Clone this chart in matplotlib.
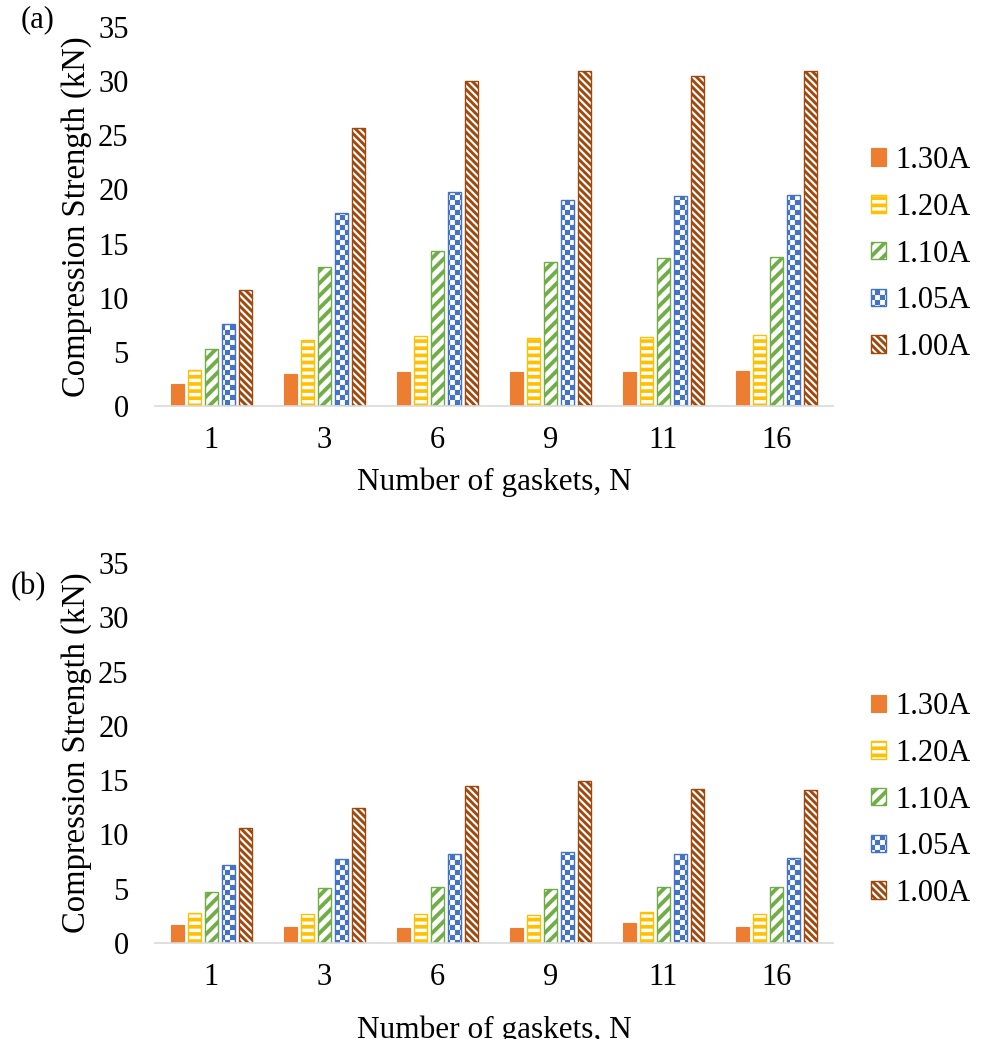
import numpy as np
import matplotlib
matplotlib.use('Agg')
import matplotlib.pyplot as plt
import matplotlib.hatch as mhatch
from matplotlib.path import Path

# ---------------- data ----------------
groups = ['1', '3', '6', '9', '11', '16']
series = ['1.30A', '1.20A', '1.10A', '1.05A', '1.00A']
yticks = [0, 5, 10, 15, 20, 25, 30, 35]

a_130 = [2.0, 3.0, 3.1, 3.1, 3.1, 3.2]
a_120 = [3.3, 6.1, 6.5, 6.3, 6.4, 6.6]
a_110 = [5.3, 12.8, 14.3, 13.3, 13.7, 13.8]
a_105 = [7.6, 17.8, 19.8, 19.0, 19.4, 19.5]
a_100 = [10.7, 25.7, 30.0, 30.9, 30.5, 30.9]

b_130 = [1.7, 1.5, 1.4, 1.4, 1.8, 1.5]
b_120 = [2.8, 2.7, 2.7, 2.6, 2.9, 2.7]
b_110 = [4.7, 5.1, 5.2, 5.0, 5.2, 5.2]
b_105 = [7.2, 7.7, 8.2, 8.4, 8.2, 7.8]
b_100 = [10.6, 12.4, 14.5, 14.9, 14.2, 14.1]

colors = ['#ED7D31', '#FFC000', '#70AD47', '#4472C4', '#9E480E']
hatches = [None, '-', '/', '+', '\\']


# ---------------- custom filled hatch patterns ----------------
def _rect(x0, y0, x1, y1):
    return [(x0, y0), (x1, y0), (x1, y1), (x0, y1), (x0, y0)]


def _hbands(n, frac):
    return [_rect(-0.05, k / n, 1.05, k / n + frac / n) for k in range(n)]


def _ne(n, frac):
    w = frac / n
    m = 0.05
    out = []
    for k in range(-n - 1, n + 1):
        a = k / n
        out.append([(a - m, -m), (a + w - m, -m), (a + w + 1 + m, 1 + m),
                    (a + 1 + m, 1 + m), (a - m, -m)])
    return out


def _se(n, frac):
    out = []
    for p in _ne(n, frac):
        out.append([(1 - x, y) for (x, y) in p][::-1])
    return out


def _checker(m):
    s = 1.0 / m
    return [_rect(j * s, i * s, (j + 1) * s, (i + 1) * s)
            for i in range(m) for j in range(m) if (i + j) % 2 == 0]


_SPECS = {
    '-': lambda: _hbands(14, 0.5),
    '/': lambda: _ne(8, 0.42),
    '\\': lambda: _se(14, 0.55),
    '+': lambda: _checker(20),
}


class CustomHatch(mhatch.HatchPatternBase):
    def __init__(self, hatch, density):
        polys = []
        for ch, fn in _SPECS.items():
            if ch in hatch:
                polys += fn()
        self.polys = polys
        self.num_vertices = 5 * len(polys)

    def set_vertices_and_codes(self, vertices, codes):
        for i, p in enumerate(self.polys):
            vertices[5 * i:5 * i + 5] = p
            codes[5 * i] = Path.MOVETO
            codes[5 * i + 1:5 * i + 4] = Path.LINETO
            codes[5 * i + 4] = Path.CLOSEPOLY


mhatch._hatch_types[:] = [CustomHatch]

plt.rcParams['font.family'] = ['Liberation Serif', 'DejaVu Serif']
plt.rcParams['hatch.linewidth'] = 0.1

FS = 22

fig = plt.figure(figsize=(9.87, 10.39), dpi=100)
ax_a = fig.add_axes([0.157, 0.6092, 0.687, 0.3648])
ax_b = fig.add_axes([0.157, 0.0924, 0.687, 0.3657])


def draw(ax, data, legend_y, xlabel_y):
    x = np.arange(len(groups))
    width = 0.12
    step = 0.15
    handles = []
    for i, (vals, c, h) in enumerate(zip(data, colors, hatches)):
        if h is None:
            bc = ax.bar(x + (i - 2) * step, vals, width, color=c, edgecolor=c,
                        linewidth=0.8, label=series[i])
        else:
            bc = ax.bar(x + (i - 2) * step, vals, width, facecolor='white',
                        edgecolor=c, hatch=h, linewidth=1.0, label=series[i])
        handles.append(bc)
    ax.set_xlim(-0.5, len(groups) - 0.5)
    ax.set_ylim(0, 35)
    ax.set_yticks(yticks)
    ax.set_xticks(x)
    ax.set_xticklabels(groups)
    for s in ['top', 'right', 'left']:
        ax.spines[s].set_visible(False)
    ax.spines['bottom'].set_color('#D9D9D9')
    ax.spines['bottom'].set_linewidth(1.2)
    ax.tick_params(axis='y', length=0, pad=19, labelsize=FS)
    ax.tick_params(axis='x', length=0, pad=14.5, labelsize=FS)
    ax.set_ylabel('Compression Strength (kN)', fontsize=23.5)
    ax.yaxis.set_label_coords(-0.093, 0.5)
    ax.set_xlabel('Number of gaskets, N', fontsize=22.5)
    ax.xaxis.set_label_coords(0.5, xlabel_y)
    ax.legend(handles, series, loc='center left', bbox_to_anchor=(0.882, legend_y),
              bbox_transform=fig.transFigure, frameon=False, fontsize=FS,
              handlelength=0.5, handleheight=0.5, handletextpad=0.3,
              labelspacing=0.58, borderpad=0, borderaxespad=0)


draw(ax_a, [a_130, a_120, a_110, a_105, a_100], 1 - 254 / 1039, -0.163)
draw(ax_b, [b_130, b_120, b_110, b_105, b_100], 1 - 800 / 1039, -0.19)

fig.text(38 / 987, 1 - 20 / 1039, '(a)', ha='center', va='center', fontsize=FS)
fig.text(28 / 987, 1 - 587 / 1039, '(b)', ha='center', va='center', fontsize=FS)

fig.savefig('out.png', dpi=100)
